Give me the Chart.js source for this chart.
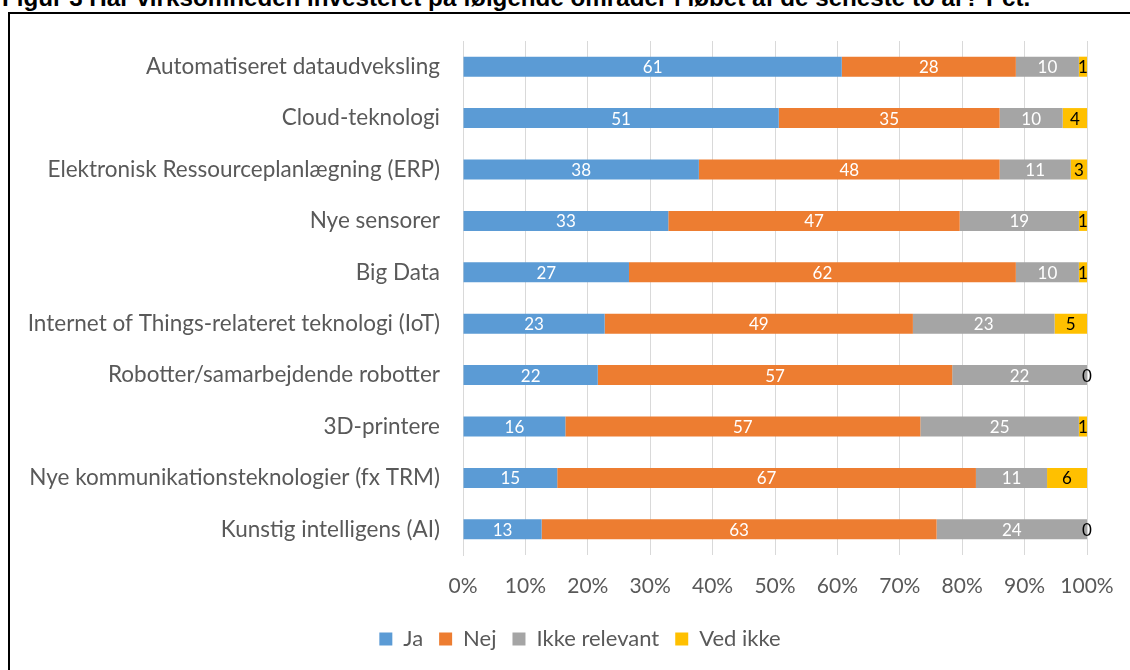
<!DOCTYPE html>
<html>
<head>
<meta charset="utf-8">
<script src="https://cdn.jsdelivr.net/npm/chart.js@4"></script>
<style>
  html, body { margin:0; padding:0; width:1130px; height:670px; overflow:hidden; background:#fff; }
  #title { position:absolute; left:2px; top:-14px; font-family:"Liberation Sans", Arial, sans-serif; font-weight:bold; font-size:24.2px; line-height:1; white-space:nowrap; color:#000; }
  #frame { position:absolute; left:8px; top:12px; width:1200px; height:800px; border-left:2px solid #000; border-top:2px solid #000; }
  #c { position:absolute; left:10px; top:14px; }
</style>
</head>
<body>
<div id="title">Figur 3 Har virksomheden investeret på følgende områder i løbet af de seneste to år? Pct.</div>
<div id="frame"></div>
<canvas id="c" width="1141" height="656"></canvas>
<script>
const categories = [
  "Automatiseret dataudveksling",
  "Cloud-teknologi",
  "Elektronisk Ressourceplanlægning (ERP)",
  "Nye sensorer",
  "Big Data",
  "Internet of Things-relateret teknologi (IoT)",
  "Robotter/samarbejdende robotter",
  "3D-printere",
  "Nye kommunikationsteknologier (fx TRM)",
  "Kunstig intelligens (AI)"
];
const seriesNames = ["Ja", "Nej", "Ikke relevant", "Ved ikke"];
const ja          = [60.7, 50.6, 37.8, 32.9, 26.6, 22.7, 21.6, 16.4, 15.1, 12.6];
const nej         = [27.9, 35.4, 48.2, 46.7, 62.0, 49.4, 56.8, 56.9, 67.1, 63.3];
const ikkeRelevant= [10.1, 10.1, 11.4, 19.1, 10.1, 22.7, 21.6, 25.4, 11.4, 24.1];
const vedIkke     = [1.3, 3.9, 2.6, 1.3, 1.3, 5.2, 0, 1.3, 6.4, 0];
const xTicks = [0, 10, 20, 30, 40, 50, 60, 70, 80, 90, 100];

const colors = ["#5B9BD5", "#ED7D31", "#A5A5A5", "#FFC000"];
const labelColors = ["#FFFFFF", "#FFFFFF", "#FFFFFF", "#000000"];
const FONT = "Lato";

const dataLabels = {
  id: "dataLabels",
  afterDatasetsDraw(chart) {
    const ctx = chart.ctx;
    ctx.save();
    ctx.font = "17px " + FONT;
    ctx.textAlign = "center";
    ctx.textBaseline = "middle";
    chart.data.datasets.forEach((ds, di) => {
      const meta = chart.getDatasetMeta(di);
      meta.data.forEach((el, i) => {
        const v = ds.data[i];
        const p = el.getProps(["x", "y", "base"], true);
        ctx.fillStyle = labelColors[di];
        ctx.fillText(String(Math.round(v)), (p.x + p.base) / 2, p.y + 1);
      });
    });
    ctx.restore();
  }
};

// centre the legend under the whole (wider) chart object, as in the original
const legendShift = {
  id: "legendShift",
  afterLayout(chart) {
    if (chart.legend) { chart.legend.left = 63; }
  }
};

Chart.defaults.font.family = FONT;
Chart.defaults.color = "#595959";

new Chart(document.getElementById("c"), {
  type: "bar",
  data: {
    labels: categories,
    datasets: [ja, nej, ikkeRelevant, vedIkke].map((d, i) => ({
      label: seriesNames[i],
      data: d,
      backgroundColor: colors[i],
      borderWidth: 0,
      barPercentage: 0.39,
      categoryPercentage: 1
    }))
  },
  options: {
    indexAxis: "y",
    responsive: false,
    animation: false,
    devicePixelRatio: 1,
    layout: { padding: { left: 0, right: 64, top: 27, bottom: 10 } },
    scales: {
      x: {
        stacked: true,
        min: 0, max: 100,
        afterBuildTicks(scale) { scale.ticks = xTicks.map(v => ({ value: v })); },
        afterFit(scale) { scale.height = 57; },
        ticks: { callback: v => v + "%", font: { size: 21 }, color: "#595959", padding: 19, maxRotation: 0 },
        grid: { color: "#D9D9D9", lineWidth: 1, drawTicks: false },
        border: { display: false }
      },
      y: {
        stacked: true,
        afterFit(scale) { scale.width = 453; },
        ticks: { font: { size: 22.5 }, color: "#595959", padding: 0 },
        grid: { display: true, drawOnChartArea: false, drawTicks: true, tickLength: 23, tickColor: "rgba(0,0,0,0)", color: "rgba(0,0,0,0)" },
        border: { display: true, color: "#D9D9D9", width: 1 }
      }
    },
    plugins: {
      legend: {
        position: "bottom",
        labels: { boxWidth: 13, boxHeight: 13, padding: 16, font: { size: 22 }, color: "#595959" }
      },
      tooltip: { enabled: false }
    }
  },
  plugins: [dataLabels, legendShift]
});
</script>
</body>
</html>
